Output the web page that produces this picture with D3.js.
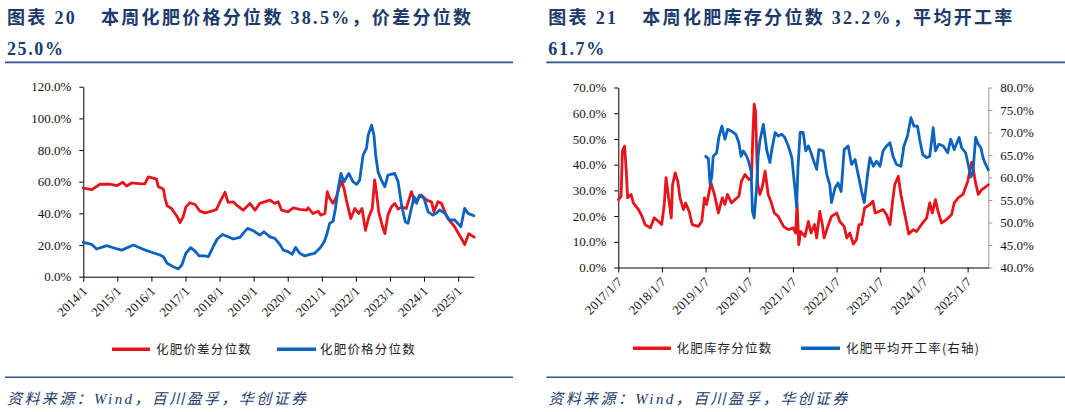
<!DOCTYPE html>
<html><head><meta charset="utf-8">
<script src="https://cdn.jsdelivr.net/npm/d3@7"></script>
<style>
body{margin:0;background:#fff;}
svg{display:block;}
.tick text{font-family:"Liberation Serif","Times New Roman",serif;font-size:13px;fill:#111;}
</style></head><body>
<svg id="c" width="1065" height="412"></svg>
<script>
// ---------- DATA (decimal year, value %) ----------
const spreadPct = [[2014.00,56],[2014.25,55],[2014.49,58.4],[2014.78,58.4],[2014.98,57.5],[2015.16,59.7],[2015.27,57.3],[2015.42,59.2],[2015.71,58.6],[2015.81,58.8],[2015.91,63],[2016.05,62.2],[2016.15,61.6],[2016.20,56.9],[2016.35,55.4],[2016.40,49.5],[2016.46,44.8],[2016.59,43.1],[2016.69,39.9],[2016.76,37.8],[2016.84,34.2],[2016.93,37.8],[2017.01,44.1],[2017.13,46.7],[2017.28,45.6],[2017.42,41.4],[2017.57,40.3],[2017.77,41.4],[2017.91,42.5],[2018.01,47.3],[2018.16,53.3],[2018.25,46.9],[2018.40,47.3],[2018.50,45.2],[2018.69,42],[2018.89,46.3],[2019.04,42],[2019.18,46.3],[2019.48,48.4],[2019.62,46.3],[2019.72,47.3],[2019.82,42],[2020.01,41],[2020.16,43.5],[2020.35,42.5],[2020.55,42],[2020.60,43.5],[2020.74,39.9],[2020.89,41.4],[2020.97,38.9],[2021.09,39.9],[2021.16,53.7],[2021.23,49.5],[2021.33,46.3],[2021.43,50.5],[2021.50,55.8],[2021.58,60.1],[2021.65,55.8],[2021.72,48.4],[2021.85,36.7],[2021.97,43.1],[2022.08,39.9],[2022.18,43.1],[2022.28,29.3],[2022.38,37.8],[2022.48,43.1],[2022.55,61.1],[2022.60,53.7],[2022.67,41],[2022.77,32.5],[2022.85,27.2],[2022.94,38.9],[2023.04,44.1],[2023.14,46.3],[2023.24,42.7],[2023.34,44.1],[2023.48,43.1],[2023.63,53.7],[2023.73,47.3],[2023.82,49.5],[2023.92,51.6],[2024.07,48.4],[2024.22,47.3],[2024.29,41],[2024.41,47.3],[2024.51,46.3],[2024.61,41],[2024.70,36.7],[2024.90,31.4],[2025.10,24],[2025.19,20.2],[2025.31,27.2],[2025.47,25]];
const pricePct = [[2014.00,21.7],[2014.25,20.4],[2014.39,17.5],[2014.69,19.6],[2014.88,18.3],[2015.13,16.8],[2015.47,20],[2015.76,17.3],[2016.05,15.1],[2016.25,13.7],[2016.35,12.6],[2016.46,8.5],[2016.64,6.3],[2016.79,4.9],[2016.89,7.4],[2017.01,14.8],[2017.15,18.3],[2017.28,16.2],[2017.40,13.1],[2017.57,13.2],[2017.67,12.6],[2017.81,18.9],[2017.93,23.8],[2018.09,26.7],[2018.25,25.2],[2018.40,23.8],[2018.60,24.9],[2018.69,27.4],[2018.82,30.5],[2018.99,29],[2019.18,26.3],[2019.30,28.4],[2019.48,25.2],[2019.62,24.2],[2019.77,20.4],[2019.87,16.8],[2020.01,15.8],[2020.13,14.1],[2020.23,18.5],[2020.35,14.8],[2020.50,13.1],[2020.65,14.1],[2020.79,14.8],[2020.94,17.9],[2021.07,22.1],[2021.14,26.3],[2021.23,33.7],[2021.33,35.1],[2021.40,43.2],[2021.48,55.8],[2021.56,65.2],[2021.65,59.9],[2021.79,65.2],[2021.92,59.9],[2022.02,58.3],[2022.11,61],[2022.21,76.8],[2022.31,81],[2022.36,89.4],[2022.46,95.7],[2022.53,89.4],[2022.58,76.8],[2022.65,66.2],[2022.75,61],[2022.85,56.8],[2022.94,64.2],[2023.14,65.2],[2023.24,59.9],[2023.34,45.2],[2023.45,34.7],[2023.53,33.7],[2023.63,43.2],[2023.71,50.5],[2023.78,46.3],[2023.87,51.5],[2024.00,49.5],[2024.12,41],[2024.26,38.9],[2024.36,40],[2024.46,42.1],[2024.61,40],[2024.75,35.8],[2024.90,35.8],[2025.08,31.5],[2025.19,43.2],[2025.29,40],[2025.46,38.5]];
const inventoryPct = [[2017.02,26.4],[2017.08,27.7],[2017.11,45.3],[2017.16,47.2],[2017.20,37.5],[2017.23,27.1],[2017.31,28.4],[2017.36,25.1],[2017.48,22.5],[2017.56,19.9],[2017.63,16.7],[2017.75,15.4],[2017.84,19.3],[2017.94,17.9],[2018.01,16.7],[2018.07,24.5],[2018.11,34.9],[2018.16,28.4],[2018.23,19.3],[2018.26,32.3],[2018.32,36.8],[2018.38,33.6],[2018.43,27.1],[2018.51,22.5],[2018.56,25.1],[2018.64,21.8],[2018.71,16.7],[2018.85,16],[2018.93,17.9],[2018.99,27.1],[2019.04,24.5],[2019.14,32.9],[2019.22,28.4],[2019.31,21.2],[2019.40,27.1],[2019.46,24.5],[2019.52,28.4],[2019.61,25.1],[2019.69,26.4],[2019.78,27.7],[2019.84,33.6],[2019.92,36.2],[2020.01,34.2],[2020.07,34.9],[2020.10,51.8],[2020.13,63.5],[2020.16,60.9],[2020.21,32.3],[2020.26,28.4],[2020.32,31.6],[2020.38,37.5],[2020.45,28.4],[2020.51,25.8],[2020.59,21.2],[2020.68,19.9],[2020.80,16],[2020.91,14.7],[2021.02,15.4],[2021.08,13.4],[2021.11,25],[2021.15,8.9],[2021.19,14],[2021.29,12.1],[2021.37,17.9],[2021.43,13.4],[2021.51,16.7],[2021.56,11.5],[2021.63,21.8],[2021.69,16.7],[2021.73,11.5],[2021.83,16.7],[2021.90,19.9],[2022.02,21.2],[2022.09,17.9],[2022.19,16],[2022.25,11.5],[2022.32,13.4],[2022.40,9.1],[2022.47,10.8],[2022.53,16.7],[2022.59,16.7],[2022.66,23.2],[2022.78,24.5],[2022.85,25.8],[2022.90,21.2],[2022.98,21.8],[2023.08,22.5],[2023.16,20.6],[2023.24,16.7],[2023.30,25.8],[2023.35,32.3],[2023.43,35.5],[2023.49,28.4],[2023.58,20.6],[2023.67,13],[2023.77,14.7],[2023.85,14],[2023.96,16.7],[2024.08,19.3],[2024.15,25.1],[2024.21,21.2],[2024.28,26.4],[2024.34,21.8],[2024.42,17.3],[2024.53,18.6],[2024.65,20.6],[2024.71,25.1],[2024.80,27.1],[2024.91,28.4],[2025.02,33.6],[2025.11,41],[2025.15,38],[2025.19,33.6],[2025.26,28.4],[2025.34,30.3],[2025.42,31.2],[2025.49,32.2]];
const utilizationPct = [[2019.02,64.7],[2019.08,64.2],[2019.12,58.4],[2019.16,60.3],[2019.19,64.7],[2019.27,65.5],[2019.32,68.9],[2019.39,71.4],[2019.46,68.5],[2019.52,70.7],[2019.61,70.3],[2019.71,69.6],[2019.78,67.7],[2019.83,64.7],[2019.88,65.9],[2019.96,64.7],[2020.01,63.3],[2020.06,61.4],[2020.09,52.5],[2020.13,51],[2020.19,58.4],[2020.22,64.7],[2020.26,68.1],[2020.34,71.8],[2020.42,65.9],[2020.49,63.3],[2020.54,66.6],[2020.61,70],[2020.68,69.2],[2020.76,69.6],[2020.83,68.9],[2020.91,67],[2020.99,64.4],[2021.06,57.7],[2021.10,53.5],[2021.13,62],[2021.18,70],[2021.25,70],[2021.31,65.9],[2021.37,67],[2021.43,65.5],[2021.48,64],[2021.56,61.8],[2021.61,66.2],[2021.71,65.9],[2021.79,60.7],[2021.86,58.4],[2021.90,54.4],[2021.98,57.7],[2022.05,58.8],[2022.12,56.9],[2022.19,66.2],[2022.28,67],[2022.36,62.9],[2022.44,64],[2022.51,60.7],[2022.59,56.9],[2022.65,54.4],[2022.73,61],[2022.78,64.4],[2022.86,62.5],[2022.93,63.6],[2023.01,62.5],[2023.08,65.9],[2023.16,67],[2023.24,67.7],[2023.31,64.7],[2023.39,62.9],[2023.49,62.5],[2023.56,67],[2023.64,69.2],[2023.72,73.3],[2023.79,71.4],[2023.87,71.4],[2023.92,68.5],[2023.99,65.1],[2024.08,64.4],[2024.15,64.7],[2024.23,71.1],[2024.28,65.9],[2024.36,67.4],[2024.46,67],[2024.56,65.5],[2024.63,68.5],[2024.71,66.2],[2024.82,68.9],[2024.88,66.6],[2024.97,65.5],[2025.03,62.9],[2025.09,60.1],[2025.14,61.4],[2025.20,68.9],[2025.26,67.4],[2025.32,66.6],[2025.37,64.4],[2025.41,63.3],[2025.49,61.7]];

const leftYTicks = [0,20,40,60,80,100,120];
const leftXYears = [2014,2015,2016,2017,2018,2019,2020,2021,2022,2023,2024,2025];
const rightYTicks = [0,10,20,30,40,50,60,70];
const rightY2Ticks = [40,45,50,55,60,65,70,75,80];
const rightXYears = [2017,2018,2019,2020,2021,2022,2023,2024,2025];

const titleL = ["图表 20", "本周化肥价格分位数 38.5%，价差分位数", "25.0%"];
const titleR = ["图表 21", "本周化肥库存分位数 32.2%，平均开工率", "61.7%"];
const legendL = ["化肥价差分位数", "化肥价格分位数"];
const legendR = ["化肥库存分位数", "化肥平均开工率(右轴)"];
const sourceText = "资料来源：Wind，百川盈孚，华创证券";

// ---------- helpers ----------
const yd = y => { const yr = Math.floor(y); const s = new Date(yr,0,1), e = new Date(yr+1,0,1); return new Date(+s + (y-yr)*(e-s)); };
const NAVY = '#1B3A6B', RULE = '#2F5496', RED = '#E8141C', BLUE = '#0B63BF';
const svg = d3.select('#c');
const pctFmt = d => d.toFixed(1) + '%';
const SERIF = '"Liberation Serif","Times New Roman","Noto Sans CJK SC",serif';

function header(x0, x1, t) {
  const tx = svg.append('text').attr('x', x0).attr('y', 24)
    .attr('font-family', SERIF).attr('font-weight', 'bold').attr('font-size', 18)
    .attr('letter-spacing', 2.3).attr('fill', NAVY);
  tx.append('tspan').text(t[0]);
  tx.append('tspan').attr('x', x0 + 94).text(t[1]);
  svg.append('text').attr('x', x0).attr('y', 55)
    .attr('font-family', SERIF).attr('font-weight', 'bold').attr('font-size', 18)
    .attr('letter-spacing', 1.6).attr('fill', NAVY).text(t[2]);
  svg.append('line').attr('x1', x0 - 2).attr('x2', x1).attr('y1', 62.3).attr('y2', 62.3)
    .attr('stroke', RULE).attr('stroke-width', 1.8);
  svg.append('line').attr('x1', x0 - 2).attr('x2', x1).attr('y1', 377.3).attr('y2', 377.3)
    .attr('stroke', RULE).attr('stroke-width', 1.6);
  svg.append('text').attr('x', x0).attr('y', 404)
    .attr('font-family', SERIF).attr('font-style', 'italic').attr('font-size', 15)
    .attr('letter-spacing', 2.4).attr('fill', NAVY).text(sourceText);
}

function styleAxis(g, color) {
  g.select('.domain').attr('stroke', color).attr('stroke-width', 1);
  g.selectAll('.tick line').attr('stroke', color);
}

function rotateX(g) {
  g.selectAll('.tick text').attr('x', 0).attr('y', 0).attr('dy', '0.35em')
    .attr('text-anchor', 'end').attr('transform', 'translate(1,12) rotate(-45)');
}

function legend(items, y) {
  items.forEach(it => {
    svg.append('line').attr('x1', it.x1).attr('x2', it.x2).attr('y1', y).attr('y2', y)
      .attr('stroke', it.color).attr('stroke-width', 3.5);
    svg.append('text').attr('x', it.tx).attr('y', y + 4.5)
      .attr('font-family', '"Noto Sans CJK SC","Liberation Serif",sans-serif').attr('font-size', 12.5)
      .attr('letter-spacing', 1.2).attr('fill', '#222').text(it.label);
  });
}

function drawLine(data, x, y, color) {
  svg.append('path').datum(data)
    .attr('d', d3.line().x(d => x(yd(d[0]))).y(d => y(d[1])))
    .attr('fill', 'none').attr('stroke', color).attr('stroke-width', 2.8)
    .attr('stroke-linejoin', 'round').attr('stroke-linecap', 'round');
}

// ---------- LEFT CHART ----------
header(7, 513, titleL);
const xL = d3.scaleTime().domain([yd(2014), yd(2025.465)]).range([83.3, 474]);
const yL = d3.scaleLinear().domain([0, 120]).range([276.7, 86.7]);

const gyL = svg.append('g').attr('transform', 'translate(83.3,0)')
  .call(d3.axisLeft(yL).tickValues(leftYTicks).tickFormat(pctFmt).tickSize(4).tickPadding(8).tickSizeOuter(0));
styleAxis(gyL, '#000');
const gxL = svg.append('g').attr('transform', 'translate(0,276.7)')
  .call(d3.axisBottom(xL).tickValues(leftXYears.map(y => new Date(y,0,1))).tickFormat(d3.timeFormat('%Y/%-m')).tickSize(5).tickSizeOuter(0));
styleAxis(gxL, '#000');
rotateX(gxL);

drawLine(spreadPct, xL, yL, RED);
drawLine(pricePct, xL, yL, BLUE);

legend([
  {x1: 112, x2: 150, color: RED, label: legendL[0], tx: 156},
  {x1: 277, x2: 316, color: BLUE, label: legendL[1], tx: 320}
], 349.3);

// ---------- RIGHT CHART ----------
header(548.3, 1065, titleR);
const xR = d3.scaleTime().domain([new Date(2017,0,7), yd(2025.49)]).range([618.3, 988.3]);
const yR = d3.scaleLinear().domain([0, 70]).range([267.5, 87.5]);
const yR2 = d3.scaleLinear().domain([40, 80]).range([267.5, 87.5]);

const gyR = svg.append('g').attr('transform', 'translate(618.3,0)')
  .call(d3.axisLeft(yR).tickValues(rightYTicks).tickFormat(pctFmt).tickSize(4).tickPadding(8).tickSizeOuter(0));
styleAxis(gyR, '#000');
const gyR2 = svg.append('g').attr('transform', 'translate(988.3,0)')
  .call(d3.axisRight(yR2).tickValues(rightY2Ticks).tickFormat(pctFmt).tickSize(4).tickPadding(8).tickSizeOuter(0));
styleAxis(gyR2, '#9a9a9a');
const gxR = svg.append('g').attr('transform', 'translate(0,267.5)')
  .call(d3.axisBottom(xR).tickValues(rightXYears.map(y => new Date(y,0,7))).tickFormat(d3.timeFormat('%Y/%-m/%-d')).tickSize(5).tickSizeOuter(0));
styleAxis(gxR, '#000');
rotateX(gxR);

drawLine(inventoryPct, xR, yR, RED);
drawLine(utilizationPct, xR, yR2, BLUE);

legend([
  {x1: 633, x2: 671, color: RED, label: legendR[0], tx: 676.5},
  {x1: 801, x2: 840, color: BLUE, label: legendR[1], tx: 846}
], 348.3);
</script>
</body></html>
